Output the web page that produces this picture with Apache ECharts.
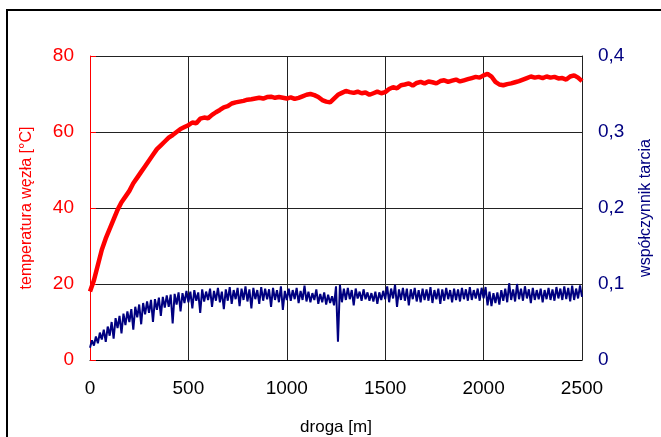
<!DOCTYPE html>
<html>
<head>
<meta charset="utf-8">
<script src="https://cdn.jsdelivr.net/npm/echarts@6/dist/echarts.min.js"></script>
<style>html,body{margin:0;padding:0;background:#fff;}#c{width:661px;height:437px;}</style>
</head>
<body>
<div id="c"></div>
<script>
// x ticks
const xTicks = [0, 500, 1000, 1500, 2000, 2500];
const tempTicks = [0, 20, 40, 60, 80];
const frictionTicks = ['0', '0,1', '0,2', '0,3', '0,4'];

// temperature [°C], sampled every 20 m from 0 to 2500 m
const tempStep = 20;
const temperature = [
 18,21,25,29,32,34.5,37,39.5,41.5,43,
 44.5,46.5,48,49.5,51,52.5,54,55.5,56.5,57.5,
 58.5,59.2,60,60.8,61.3,61.8,62.5,62.3,63.5,63.8,
 63.6,64.5,65.2,65.8,66.5,66.8,67.5,67.8,68,68.2,
 68.5,68.6,68.8,69,68.8,69.2,69.3,69,69.2,69,
 68.8,69.1,68.7,69,69.4,69.8,70,69.7,69.2,68.4,
 68,67.8,68.8,69.8,70.3,70.8,70.5,70.3,70.6,70.2,
 70.4,69.8,70.2,70.6,70.2,70.5,71.3,71.8,71.5,72.3,
 72.5,72.8,72.2,72.9,73.2,72.8,73.3,73.1,72.8,73.4,
 73.6,73.2,73.5,73.8,73.3,73.6,73.9,74.2,74.5,74.3,
 74.9,75.3,74.6,73.2,72.5,72.3,72.6,72.8,73.1,73.4,
 73.8,74.2,74.6,74.3,74.5,74.2,74.6,74.3,74.5,74.1,
 74.2,73.8,74.6,74.9,74.3,73.4
];

// friction coefficient, sampled every 10 m from 0 to 2500 m
const frictionStep = 10;
const friction = [
 0.016,0.026,0.019,0.031,0.022,0.036,0.027,0.040,0.024,0.044,
 0.032,0.050,0.028,0.055,0.042,0.058,0.035,0.061,0.046,0.064,
 0.050,0.067,0.040,0.070,0.056,0.073,0.047,0.075,0.060,0.077,
 0.062,0.079,0.050,0.080,0.066,0.082,0.058,0.083,0.069,0.085,
 0.070,0.086,0.048,0.087,0.073,0.089,0.064,0.088,0.075,0.091,
 0.076,0.090,0.068,0.092,0.078,0.089,0.062,0.093,0.077,0.090,
 0.079,0.094,0.070,0.091,0.078,0.095,0.076,0.090,0.067,0.093,
 0.078,0.096,0.074,0.092,0.080,0.095,0.071,0.094,0.079,0.097,
 0.077,0.093,0.068,0.095,0.080,0.092,0.074,0.096,0.078,0.094,
 0.080,0.093,0.070,0.095,0.079,0.092,0.076,0.097,0.066,0.091,
 0.079,0.094,0.078,0.092,0.080,0.095,0.075,0.091,0.079,0.098,
 0.077,0.090,0.076,0.088,0.079,0.093,0.074,0.087,0.076,0.089,
 0.073,0.086,0.075,0.084,0.072,0.097,0.024,0.099,0.076,0.094,
 0.079,0.095,0.080,0.092,0.072,0.094,0.081,0.090,0.078,0.093,
 0.080,0.089,0.078,0.088,0.077,0.090,0.074,0.089,0.079,0.091,
 0.080,0.097,0.076,0.094,0.081,0.099,0.070,0.093,0.079,0.095,
 0.078,0.094,0.072,0.093,0.080,0.095,0.077,0.092,0.076,0.094,
 0.079,0.093,0.078,0.096,0.075,0.092,0.080,0.094,0.074,0.093,
 0.078,0.095,0.080,0.092,0.076,0.094,0.079,0.093,0.077,0.095,
 0.080,0.093,0.078,0.096,0.079,0.092,0.081,0.094,0.078,0.095,
 0.081,0.096,0.072,0.090,0.071,0.088,0.075,0.089,0.073,0.092,
 0.078,0.094,0.076,0.101,0.079,0.093,0.077,0.100,0.080,0.094,
 0.078,0.097,0.081,0.093,0.075,0.095,0.079,0.092,0.080,0.094,
 0.076,0.092,0.080,0.095,0.079,0.093,0.078,0.096,0.081,0.094,
 0.079,0.097,0.080,0.095,0.077,0.098,0.079,0.094,0.081,0.098,
 0.083
];

const FONT = '"Liberation Sans", Arial, sans-serif';
const tempData = temperature.map((v, i) => [i * tempStep, v]);
const fricData = friction.map((v, i) => [i * frictionStep, v]);

const chart = echarts.init(document.getElementById('c'), null, {renderer: 'canvas'});
chart.setOption({
  animation: false,
  backgroundColor: '#fff',
  grid: {left: 90, right: 79, top: 56, bottom: 77, containLabel: false, outerBoundsMode: 'none'},
  graphic: [{
    type: 'rect', shape: {x: 7, y: 10, width: 720, height: 500},
    style: {fill: 'none', stroke: '#000', lineWidth: 2}, silent: true, z: 100
  }],
  xAxis: {
    type: 'value', min: xTicks[0], max: xTicks[xTicks.length - 1], interval: 500,
    name: 'droga [m]', nameLocation: 'middle', nameGap: 59,
    nameTextStyle: {color: '#000', fontSize: 17, fontFamily: FONT},
    axisLine: {show: true, lineStyle: {color: '#000', width: 1}},
    axisTick: {show: false},
    axisLabel: {color: '#000', fontSize: 19, fontFamily: FONT, margin: 19,
      formatter: v => String(v)},
    splitLine: {show: true, lineStyle: {color: '#222', width: 1}}
  },
  yAxis: [{
    type: 'value', min: tempTicks[0], max: tempTicks[tempTicks.length - 1], interval: 20, position: 'left',
    name: 'temperatura węzła [°C]', nameLocation: 'middle', nameGap: 55,
    nameTextStyle: {color: '#ff0000', fontSize: 16, fontFamily: FONT},
    axisLine: {show: true, lineStyle: {color: '#ff0000', width: 1}},
    axisTick: {show: true, inside: true, length: 6, lineStyle: {color: '#ff0000'}},
    axisLabel: {color: '#ff0000', fontSize: 19, fontFamily: FONT, margin: 16,
      formatter: v => String(v)},
    splitLine: {show: true, lineStyle: {color: '#222', width: 1}}
  }, {
    type: 'value', min: 0, max: 0.4, interval: 0.1, position: 'right',
    name: 'współczynnik tarcia', nameLocation: 'middle', nameGap: 56,
    nameTextStyle: {color: '#000080', fontSize: 16, fontFamily: FONT},
    axisLine: {show: true, lineStyle: {color: '#222', width: 1}},
    axisTick: {show: false},
    axisLabel: {color: '#000080', fontSize: 19, fontFamily: FONT, margin: 16,
      formatter: v => frictionTicks[Math.round(v * 10)]},
    splitLine: {show: false}
  }],
  series: [{
    name: 'temperatura', type: 'line', yAxisIndex: 0, data: tempData,
    showSymbol: false, lineStyle: {color: '#ff0000', width: 4.5}, z: 3
  }, {
    name: 'tarcie', type: 'line', yAxisIndex: 1, data: fricData,
    showSymbol: false, lineStyle: {color: '#000080', width: 2}, z: 4
  }]
});
</script>
</body>
</html>
